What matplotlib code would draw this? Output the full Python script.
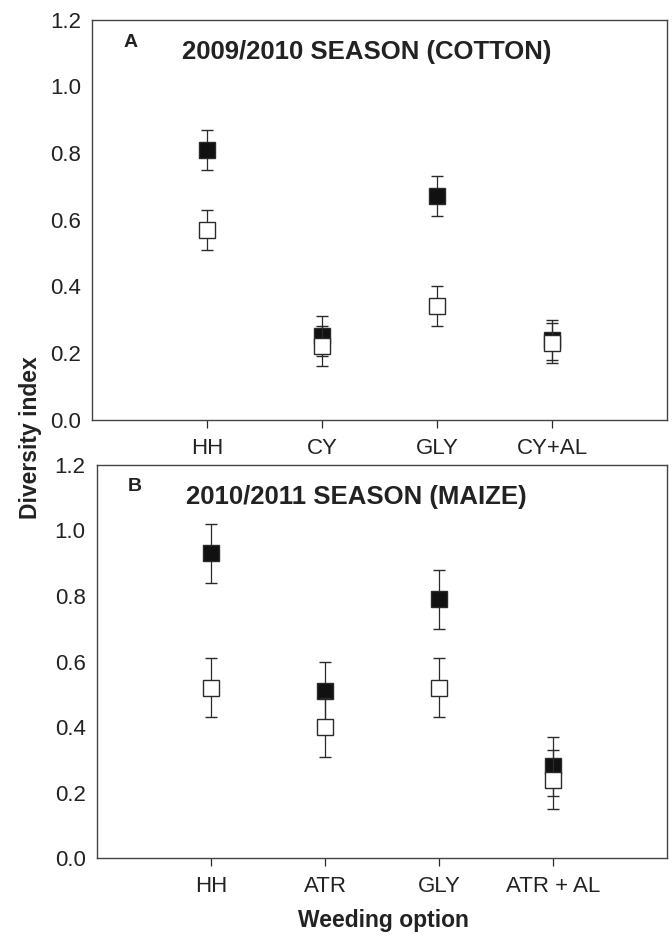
import matplotlib
matplotlib.use("Agg")
import matplotlib.pyplot as plt

plt.rcParams["font.family"] = "Liberation Sans"

# panel A: 2009/2010 cotton
cats_a = ["HH", "CY", "GLY", "CY+AL"]
filled_a = [0.81, 0.25, 0.67, 0.24]
filled_a_err = [0.06, 0.06, 0.06, 0.06]
open_a = [0.57, 0.22, 0.34, 0.23]
open_a_err = [0.06, 0.06, 0.06, 0.06]

# panel B: 2010/2011 maize
cats_b = ["HH", "ATR", "GLY", "ATR + AL"]
filled_b = [0.93, 0.51, 0.79, 0.28]
filled_b_err = [0.09, 0.09, 0.09, 0.09]
open_b = [0.52, 0.40, 0.52, 0.24]
open_b_err = [0.09, 0.09, 0.09, 0.09]

yticks = [0.0, 0.2, 0.4, 0.6, 0.8, 1.0, 1.2]

fig = plt.figure(figsize=(6.72, 9.35), dpi=100)
ax_a = fig.add_axes([0.137, 0.551, 0.856, 0.428])
ax_b = fig.add_axes([0.144, 0.082, 0.849, 0.421])

ink = "#2a2a2a"


def draw_panel(ax, cats, fv, fe, ov, oe, letter, title):
    x = list(range(1, len(cats) + 1))
    ax.errorbar(x, fv, yerr=fe, fmt="s", ms=11.5, mfc="#111111", mec=ink,
                mew=1.0, ecolor=ink, elinewidth=0.9, capsize=4.5,
                capthick=0.9, zorder=3)
    ax.errorbar(x, ov, yerr=oe, fmt="s", ms=11.5, mfc="white", mec=ink,
                mew=1.0, ecolor=ink, elinewidth=0.9, capsize=4.5,
                capthick=0.9, zorder=4)
    ax.set_xlim(0, 5)
    ax.set_ylim(0, 1.2)
    ax.set_xticks(x)
    ax.set_xticklabels(cats)
    ax.set_yticks(yticks)
    ax.set_yticklabels([f"{t:.1f}" for t in yticks])
    ax.tick_params(axis="x", direction="out", length=6, width=0.9,
                   color=ink, labelsize=16, labelcolor="#222222", pad=7)
    ax.tick_params(axis="y", length=0, labelsize=16, labelcolor="#222222",
                   pad=8)
    for s in ax.spines.values():
        s.set_color("#444444")
        s.set_linewidth(1.0)
    ax.text(0.055, 0.965, letter, transform=ax.transAxes, fontsize=14,
            fontweight="bold", color="#222222", va="top")
    ax.text(0.157, 0.948, title, transform=ax.transAxes, fontsize=18.5,
            fontweight="bold", color="#222222", va="top")


draw_panel(ax_a, cats_a, filled_a, filled_a_err, open_a, open_a_err,
           "A", "2009/2010 SEASON (COTTON)")
draw_panel(ax_b, cats_b, filled_b, filled_b_err, open_b, open_b_err,
           "B", "2010/2011 SEASON (MAIZE)")

fig.text(0.045, 0.532, "Diversity index", rotation=90, ha="center",
         va="center", fontsize=16.5, fontweight="bold", color="#222222")
fig.text(0.57, 0.016, "Weeding option", ha="center", va="center",
         fontsize=16.5, fontweight="bold", color="#222222")

fig.savefig("out.png", dpi=100)
